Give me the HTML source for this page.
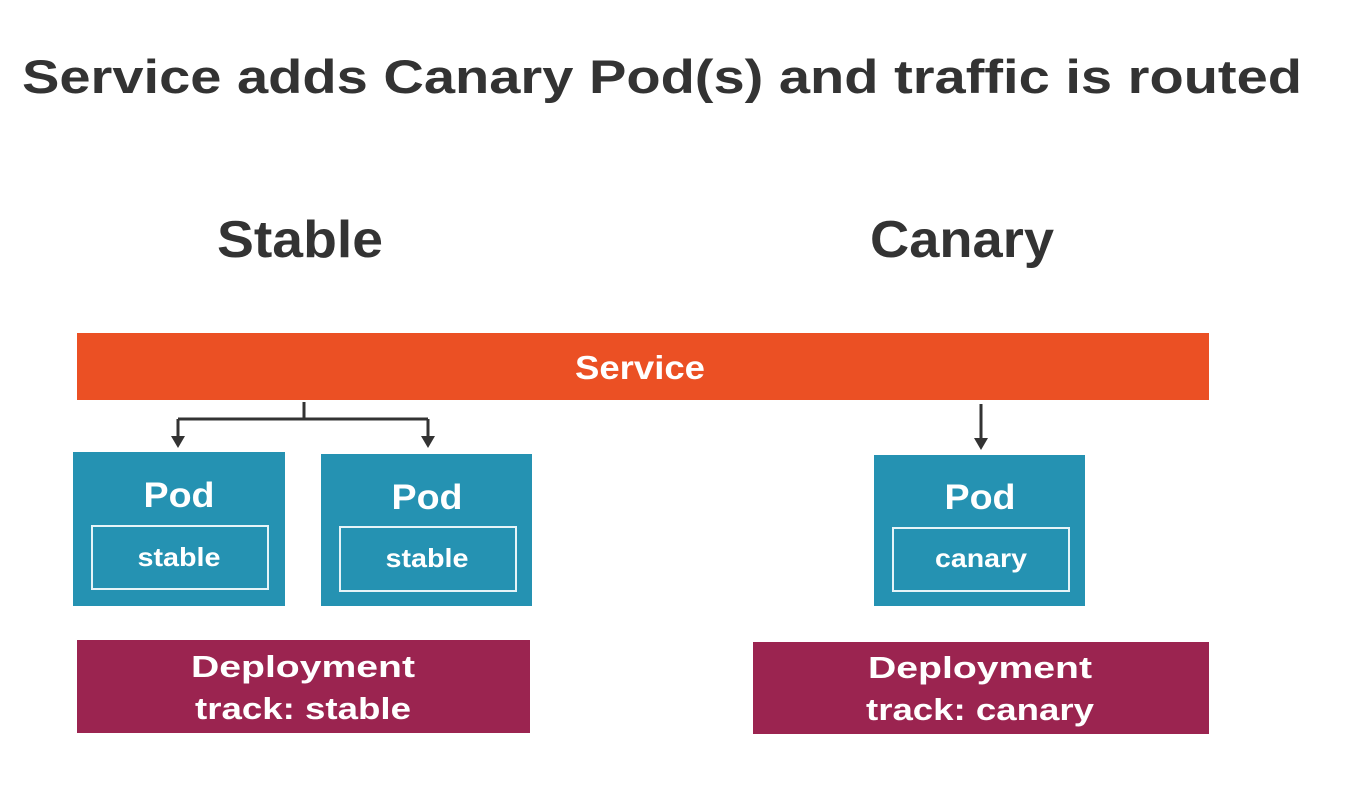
<!DOCTYPE html>
<html><head><meta charset="utf-8"><style>
html,body{margin:0;padding:0;background:#fff;}
svg{display:block;}
text{font-family:"Liberation Sans",sans-serif;font-weight:bold;}
</style></head><body>
<svg width="1367" height="803" viewBox="0 0 1367 803" xmlns="http://www.w3.org/2000/svg">
<rect width="1367" height="803" fill="#fff"/>
<text x="22" y="93" font-size="47" fill="#333" textLength="1280" lengthAdjust="spacingAndGlyphs">Service adds Canary Pod(s) and traffic is routed</text>
<text x="300" y="257" font-size="52" fill="#333" text-anchor="middle" textLength="166" lengthAdjust="spacingAndGlyphs">Stable</text>
<text x="962" y="257" font-size="52" fill="#333" text-anchor="middle" textLength="184" lengthAdjust="spacingAndGlyphs">Canary</text>
<rect x="77" y="333" width="1132" height="67" fill="#eb5024"/>
<text x="640" y="379" font-size="33" fill="#fff" text-anchor="middle" textLength="130" lengthAdjust="spacingAndGlyphs">Service</text>
<g stroke="#333" stroke-width="3" fill="none">
<path d="M304 402 V419 M178 419 H428 M178 419 V438 M428 419 V438 M981 404 V440"/>
</g>
<g fill="#333">
<path d="M171 436 H185 L178 448 Z"/>
<path d="M421 436 H435 L428 448 Z"/>
<path d="M974 438 H988 L981 450 Z"/>
</g>
<g fill="#2592b2">
<rect x="73" y="452" width="212" height="154"/>
<rect x="321" y="454" width="211" height="152"/>
<rect x="874" y="455" width="211" height="151"/>
</g>
<g fill="none" stroke="#e6f4f8" stroke-width="2">
<rect x="92" y="526" width="176" height="63"/>
<rect x="340" y="527" width="176" height="64"/>
<rect x="893" y="528" width="176" height="63"/>
</g>
<g fill="#fff" font-size="35" text-anchor="middle">
<text x="179" y="507" textLength="71" lengthAdjust="spacingAndGlyphs">Pod</text>
<text x="427" y="509" textLength="71" lengthAdjust="spacingAndGlyphs">Pod</text>
<text x="980" y="509" textLength="71" lengthAdjust="spacingAndGlyphs">Pod</text>
</g>
<g fill="#fff" font-size="26" text-anchor="middle">
<text x="179" y="566" textLength="83" lengthAdjust="spacingAndGlyphs">stable</text>
<text x="427" y="567" textLength="83" lengthAdjust="spacingAndGlyphs">stable</text>
<text x="981" y="567" textLength="92" lengthAdjust="spacingAndGlyphs">canary</text>
</g>
<rect x="77" y="640" width="453" height="93" fill="#9b2450"/>
<rect x="753" y="642" width="456" height="92" fill="#9b2450"/>
<g fill="#fff" font-size="31" text-anchor="middle">
<text x="303" y="677" textLength="224" lengthAdjust="spacingAndGlyphs">Deployment</text>
<text x="303" y="719" textLength="216" lengthAdjust="spacingAndGlyphs">track: stable</text>
<text x="980" y="678" textLength="224" lengthAdjust="spacingAndGlyphs">Deployment</text>
<text x="980" y="720" textLength="228" lengthAdjust="spacingAndGlyphs">track: canary</text>
</g>
</svg>
</body></html>
